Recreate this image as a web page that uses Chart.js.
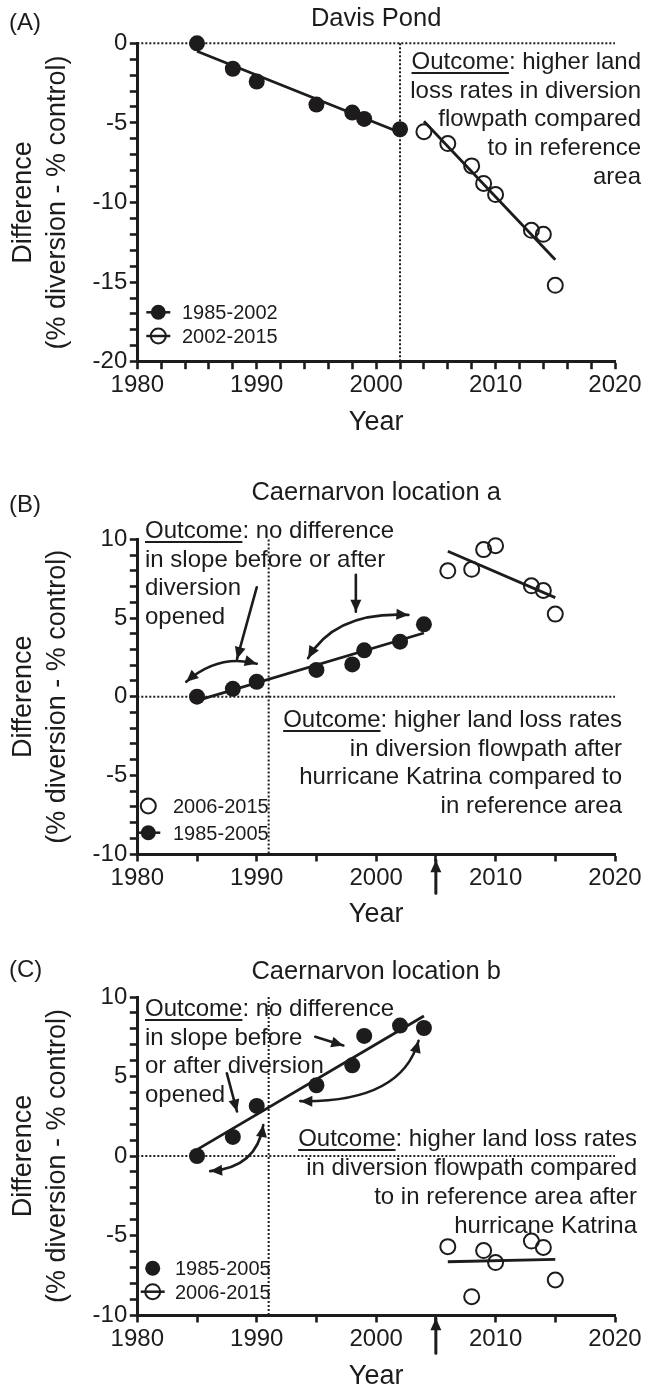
<!DOCTYPE html>
<html lang="en">
<head>
<meta charset="UTF-8">
<title>Diversion vs control land loss</title>
<script src="https://cdn.jsdelivr.net/npm/chart.js"></script>
<style>
    body { margin: 0; background: #fff; color: #1e1b1c; font-family: "Liberation Sans", Arial, Helvetica, sans-serif; }
    #page { position: relative; width: 646px; height: 1393px; overflow: hidden; }
    canvas { position: absolute; left: 0; }
    .txt { position: absolute; font-size: 24px; line-height: 28.6px; white-space: nowrap; z-index: 2; }
    .right { text-align: right; }
    .leg { position: absolute; font-size: 20px; line-height: 24px; white-space: nowrap; z-index: 2; }
    .letter { position: absolute; left: 9px; font-size: 24px; line-height: 28px; z-index: 2; }
    u { text-decoration-thickness: 2px; text-underline-offset: 3px; }
</style>
</head>
<body>
<div id="page">
    <canvas id="panelA" width="646" height="460" style="top:0px"></canvas>
    <canvas id="panelB" width="646" height="480" style="top:460px"></canvas>
    <canvas id="panelC" width="646" height="473" style="top:920px"></canvas>

    <div class="letter" style="top:8px">(A)</div>
    <div class="letter" style="top:490px">(B)</div>
    <div class="letter" style="top:955px">(C)</div>

    <!-- panel A -->
    <div class="txt right" style="top:47px; right:5px; line-height:28.7px"><u>Outcome</u>: higher land<br>loss rates in diversion<br>flowpath compared<br>to in reference<br>area</div>
    <div class="leg" style="left:182px; top:300px">1985-2002</div>
    <div class="leg" style="left:182px; top:324px">2002-2015</div>

    <!-- panel B -->
    <div class="txt" style="left:145px; top:516px"><u>Outcome</u>: no difference<br>in slope before or after<br>diversion<br>opened</div>
    <div class="txt right" style="top:705px; right:24px"><u>Outcome</u>: higher land loss rates<br>in diversion flowpath after<br>hurricane Katrina compared to<br>in reference area</div>
    <div class="leg" style="left:173px; top:794px">2006-2015</div>
    <div class="leg" style="left:173px; top:821px">1985-2005</div>

    <!-- panel C -->
    <div class="txt" style="left:145px; top:994px"><u>Outcome</u>: no difference<br>in slope before<br>or after diversion<br>opened</div>
    <div class="txt right" style="top:1123px; right:9px; line-height:29px"><u>Outcome</u>: higher land loss rates<br>in diversion flowpath compared<br>to in reference area after<br>hurricane Katrina</div>
    <div class="leg" style="left:175px; top:1256px">1985-2005</div>
    <div class="leg" style="left:175px; top:1280px">2006-2015</div>
</div>

<script>
    // ---- data ----
    // (A) Davis Pond
    const davisEarlyYears = [1985, 1988, 1990, 1995, 1998, 1999, 2002];
    const davisEarly = [0, -1.6, -2.4, -3.85, -4.35, -4.75, -5.4];
    const davisLateYears = [2004, 2006, 2008, 2009, 2010, 2013, 2014, 2015];
    const davisLate = [-5.55, -6.3, -7.7, -8.8, -9.5, -11.75, -12.0, -15.2];
    const davisFitEarlyYears = [1985, 2002];
    const davisFitEarly = [-0.5, -5.6];
    const davisFitLateYears = [2004, 2015];
    const davisFitLate = [-4.9, -13.6];

    // (B) Caernarvon location a
    const caerEarlyYears = [1985, 1988, 1990, 1995, 1998, 1999, 2002, 2004];
    const caerLateYears = [2006, 2008, 2009, 2010, 2013, 2014, 2015];
    const caerAEarly = [0, 0.5, 0.95, 1.7, 2.05, 2.95, 3.5, 4.6];
    const caerALate = [8.0, 8.1, 9.35, 9.6, 7.05, 6.75, 5.25];
    const caerAFitEarlyYears = [1985, 2004];
    const caerAFitEarly = [-0.25, 4.05];
    const caerAFitLateYears = [2006, 2015];
    const caerAFitLate = [9.25, 6.3];

    // (C) Caernarvon location b
    const caerBEarly = [0, 1.2, 3.15, 4.45, 5.7, 7.55, 8.2, 8.05];
    const caerBLate = [-5.7, -8.85, -5.95, -6.7, -5.35, -5.75, -7.8];
    const caerBFitEarlyYears = [1985, 2004];
    const caerBFitEarly = [0.4, 8.8];
    const caerBFitLateYears = [2006, 2015];
    const caerBFitLate = [-6.65, -6.5];

    const INK = '#1e1b1c';
    Chart.defaults.font.family = '"Liberation Sans", Arial, Helvetica, sans-serif';
    Chart.defaults.color = INK;

    function pts(xs, ys) {
        return xs.map((x, i) => ({ x: x, y: ys[i] }));
    }
    function pointSet(xs, ys, open) {
        return {
            data: pts(xs, ys), showLine: false,
            pointRadius: open ? 7.5 : 8, pointHoverRadius: open ? 7.5 : 8,
            pointBackgroundColor: open ? 'rgba(0,0,0,0)' : INK,
            pointBorderColor: INK, pointBorderWidth: open ? 2 : 0,
            clip: false, order: 1
        };
    }
    function fitSet(xs, ys) {
        return {
            data: pts(xs, ys), showLine: true, borderColor: INK, borderWidth: 2.8,
            pointRadius: 0, pointHoverRadius: 0, clip: false, order: 2
        };
    }

    // dotted zero line + dotted divider year
    const refLines = {
        id: 'refLines',
        beforeDatasetsDraw(chart, args, opts) {
            const { ctx, chartArea, scales } = chart;
            const y0 = scales.y.getPixelForValue(0);
            const xd = scales.x.getPixelForValue(opts.year);
            ctx.save();
            ctx.strokeStyle = INK;
            ctx.lineWidth = 2;
            ctx.setLineDash([2, 2]);
            ctx.beginPath();
            ctx.moveTo(chartArea.left, y0);
            ctx.lineTo(chartArea.right, y0);
            ctx.moveTo(xd, chartArea.top);
            ctx.lineTo(xd, chartArea.bottom);
            ctx.stroke();
            ctx.restore();
        }
    };

    function arrowHead(ctx, tip, dx, dy, len, half) {
        const d = Math.hypot(dx, dy) || 1;
        const ux = dx / d, uy = dy / d;
        ctx.beginPath();
        ctx.moveTo(tip[0], tip[1]);
        ctx.lineTo(tip[0] - ux * len - uy * half, tip[1] - uy * len + ux * half);
        ctx.lineTo(tip[0] - ux * len + uy * half, tip[1] - uy * len - ux * half);
        ctx.closePath();
        ctx.fill();
    }

    // annotation arrows, given in data units
    const arrowPlugin = {
        id: 'arrows',
        afterDatasetsDraw(chart, args, opts) {
            const { ctx, scales } = chart;
            const px = p => [scales.x.getPixelForValue(p[0]), scales.y.getPixelForValue(p[1])];
            ctx.save();
            ctx.strokeStyle = INK;
            ctx.fillStyle = INK;
            ctx.lineCap = 'round';
            opts.list.forEach(a => {
                const p0 = px(a.from), p1 = px(a.to);
                const c = a.ctrl ? px(a.ctrl) : null;
                ctx.lineWidth = a.width || 2.6;
                ctx.beginPath();
                ctx.moveTo(p0[0], p0[1]);
                if (c) ctx.quadraticCurveTo(c[0], c[1], p1[0], p1[1]);
                else ctx.lineTo(p1[0], p1[1]);
                ctx.stroke();
                const ref1 = c || p0;
                arrowHead(ctx, p1, p1[0] - ref1[0], p1[1] - ref1[1], 12, 5.5);
                if (a.both) {
                    const ref0 = c || p1;
                    arrowHead(ctx, p0, p0[0] - ref0[0], p0[1] - ref0[1], 12, 5.5);
                }
            });
            ctx.restore();
        }
    };

    // legend symbols (text is in the page)
    const keyPlugin = {
        id: 'keyMarks',
        afterDraw(chart, args, opts) {
            const ctx = chart.ctx;
            ctx.save();
            ctx.strokeStyle = INK;
            ctx.fillStyle = INK;
            opts.list.forEach(k => {
                if (k.line) {
                    ctx.lineWidth = 2.5;
                    ctx.beginPath();
                    ctx.moveTo(k.x - 12, k.y);
                    ctx.lineTo(k.x + 12, k.y);
                    ctx.stroke();
                }
                ctx.beginPath();
                ctx.arc(k.x, k.y, 7.5, 0, Math.PI * 2);
                if (k.filled) ctx.fill();
                else { ctx.lineWidth = 2; ctx.stroke(); }
            });
            ctx.restore();
        }
    };

    function makePanel(id, cfg) {
        return new Chart(document.getElementById(id), {
            type: 'scatter',
            data: { datasets: cfg.datasets },
            options: {
                responsive: false,
                animation: false,
                devicePixelRatio: 1,
                events: [],
                layout: { padding: { left: 0, right: 31, top: 0, bottom: 0 } },
                plugins: {
                    legend: { display: false },
                    tooltip: { enabled: false },
                    title: {
                        display: true, fullSize: false, text: cfg.title, color: INK,
                        font: { size: 25.5, weight: 'normal', lineHeight: 1.2 },
                        padding: cfg.titlePad
                    },
                    refLines: { year: cfg.divider },
                    arrows: { list: cfg.arrows },
                    keyMarks: { list: cfg.keys }
                },
                scales: {
                    x: {
                        type: 'linear', min: 1980, max: 2020,
                        ticks: {
                            stepSize: cfg.xStep, maxTicksLimit: 100, autoSkip: false, maxRotation: 0,
                            padding: 2, font: { size: 24 },
                            callback: v => (v % 10 === 0 ? String(v) : '')
                        },
                        grid: { drawOnChartArea: false, tickLength: 7.5, tickWidth: 2.6, tickColor: INK },
                        border: { width: 3, color: INK },
                        title: {
                            display: true, text: 'Year', font: { size: 27, lineHeight: 1.2 },
                            padding: { top: 0, bottom: cfg.yearPad }
                        },
                        afterFit(s) {
                            s.height = cfg.xHeight;
                            s.paddingLeft = 0;
                            s.paddingRight = 0;
                        }
                    },
                    y: {
                        type: 'linear', min: cfg.yMin, max: cfg.yMax,
                        ticks: {
                            stepSize: 1, maxTicksLimit: 100, autoSkip: false,
                            padding: 2.5, font: { size: 24 },
                            callback: v => (v % 5 === 0 ? String(v) : '')
                        },
                        grid: { drawOnChartArea: false, tickLength: 7.5, tickWidth: 2.6, tickColor: INK },
                        border: { width: 3, color: INK },
                        title: {
                            display: true, text: ['Difference', '(% diversion - % control)'],
                            font: { size: 27, lineHeight: 1.24 },
                            padding: { top: 7.3, bottom: 0 }
                        },
                        afterFit(s) {
                            s.width = 137.3;
                            s.paddingTop = 0;
                            s.paddingBottom = 0;
                        }
                    }
                }
            },
            plugins: [refLines, arrowPlugin, keyPlugin]
        });
    }

    makePanel('panelA', {
        title: 'Davis Pond',
        titlePad: { top: 3.7, bottom: 9 },
        xHeight: 98.3, yearPad: 20.8, xStep: 2,
        yMin: -20, yMax: 0, divider: 2002,
        datasets: [
            pointSet(davisEarlyYears, davisEarly, false),
            pointSet(davisLateYears, davisLate, true),
            fitSet(davisFitEarlyYears, davisFitEarly),
            fitSet(davisFitLateYears, davisFitLate)
        ],
        arrows: [],
        keys: [
            { x: 158.3, y: 312.3, filled: true, line: true },
            { x: 158.3, y: 336, filled: false, line: true }
        ]
    });

    makePanel('panelB', {
        title: 'Caernarvon location a',
        titlePad: { top: 18, bottom: 30.8 },
        xHeight: 86, yearPad: 8.8, xStep: 5,
        yMin: -10, yMax: 10, divider: 1991,
        datasets: [
            pointSet(caerEarlyYears, caerAEarly, false),
            pointSet(caerLateYears, caerALate, true),
            fitSet(caerAFitEarlyYears, caerAFitEarly),
            fitSet(caerAFitLateYears, caerAFitLate)
        ],
        arrows: [
            { from: [1990.0, 6.95], to: [1988.35, 2.4] },
            { from: [1998.3, 7.75], to: [1998.3, 5.4] },
            { from: [1984.1, 0.95], ctrl: [1986.8, 2.75], to: [1990.0, 2.1], both: true },
            { from: [1994.3, 2.45], ctrl: [1996.6, 5.45], to: [2002.7, 5.2], both: true },
            { from: [2005, -12.5], to: [2005, -10.4], width: 3 }
        ],
        keys: [
            { x: 148.3, y: 346, filled: false, line: false },
            { x: 148.3, y: 372.7, filled: true, line: true }
        ]
    });

    makePanel('panelC', {
        title: 'Caernarvon location b',
        titlePad: { top: 36.4, bottom: 10 },
        xHeight: 78, yearPad: 0.1, xStep: 5,
        yMin: -10, yMax: 10, divider: 1991,
        datasets: [
            pointSet(caerEarlyYears, caerBEarly, false),
            pointSet(caerLateYears, caerBLate, true),
            fitSet(caerBFitEarlyYears, caerBFitEarly),
            fitSet(caerBFitLateYears, caerBFitLate)
        ],
        arrows: [
            { from: [1994.9, 7.5], to: [1997.25, 6.95] },
            { from: [1987.5, 5.2], to: [1988.35, 2.8] },
            { from: [1986.1, -0.95], ctrl: [1990.0, -0.75], to: [1990.55, 1.95], both: true },
            { from: [1993.65, 3.45], ctrl: [2002.1, 3.35], to: [2003.55, 7.25], both: true },
            { from: [2005, -12.4], to: [2005, -10.2], width: 3 }
        ],
        keys: [
            { x: 152.7, y: 348.3, filled: true, line: false },
            { x: 152.7, y: 371.7, filled: false, line: true }
        ]
    });
</script>
</body>
</html>
